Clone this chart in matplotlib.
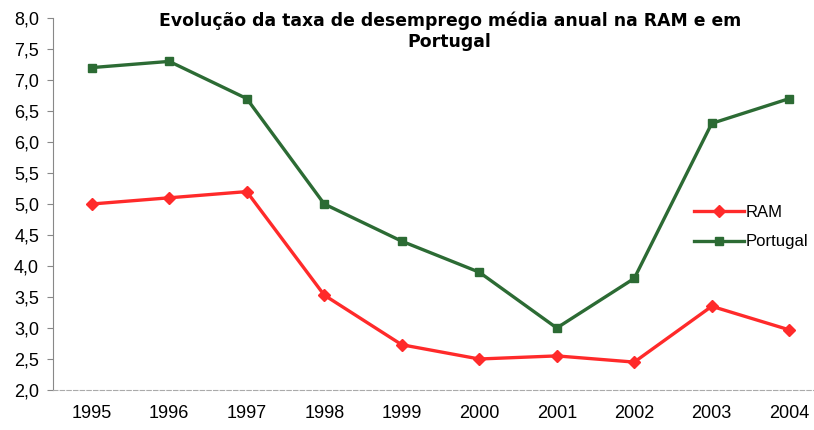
import matplotlib.pyplot as plt
import numpy as np

# --- data ---
years = ["1995", "1996", "1997", "1998", "1999", "2000", "2001", "2002", "2003", "2004"]
ram = [5.0, 5.1, 5.2, 3.53, 2.73, 2.5, 2.55, 2.45, 3.35, 2.97]
portugal = [7.2, 7.3, 6.7, 5.0, 4.4, 3.9, 3.0, 3.8, 6.3, 6.7]

W, H = 814, 430
fig = plt.figure(figsize=(W / 100, H / 100), dpi=100)
# axes placed in pixel terms: left edge x=53, bottom y=390, top y=18, runs off right edge
ax = fig.add_axes([53 / W, 1 - 390 / H, (W - 53) / W, (390 - 18) / H])

x = np.arange(len(years))
ax.plot(x, ram, color="#ff2a2a", lw=2.4, marker="D", ms=6, mec="#ff2a2a", label="RAM")
ax.plot(x, portugal, color="#2c6b34", lw=2.4, marker="s", ms=6, mec="#2c6b34", label="Portugal")

ax.set_ylim(2.0, 8.0)
ax.set_yticks(np.arange(2.0, 8.01, 0.5))
ax.set_yticklabels([f"{v:.1f}".replace(".", ",") for v in np.arange(2.0, 8.01, 0.5)],
                   fontsize=13, family="Liberation Sans")
ax.set_xlim(-0.5, (W - 53) / 77.5 - 0.5)
ax.set_xticks(x)
ax.set_xticklabels(years, fontsize=13, family="Liberation Sans")
ax.tick_params(axis="x", length=0, pad=11)
ax.tick_params(axis="y", length=4, color="#888888", pad=6)

for s in ["top", "right"]:
    ax.spines[s].set_visible(False)
ax.spines["left"].set_color("#888888")
ax.spines["bottom"].set_color("#aaaaaa")
ax.spines["bottom"].set_linestyle((0, (4, 2)))

ax.text(4.62, 8.1, "Evolução da taxa de desemprego média anual na RAM e em\nPortugal",
        ha="center", va="top", fontsize=12.4, fontweight="bold", linespacing=1.2)

ax.legend(loc="upper left", bbox_to_anchor=(0.836, 0.51), frameon=False,
          handlelength=3.0, handletextpad=0.1, labelspacing=0.85,
          borderaxespad=0, borderpad=0.3,
          prop={"family": "Liberation Sans", "size": 12})

fig.savefig("out.png", dpi=100)
